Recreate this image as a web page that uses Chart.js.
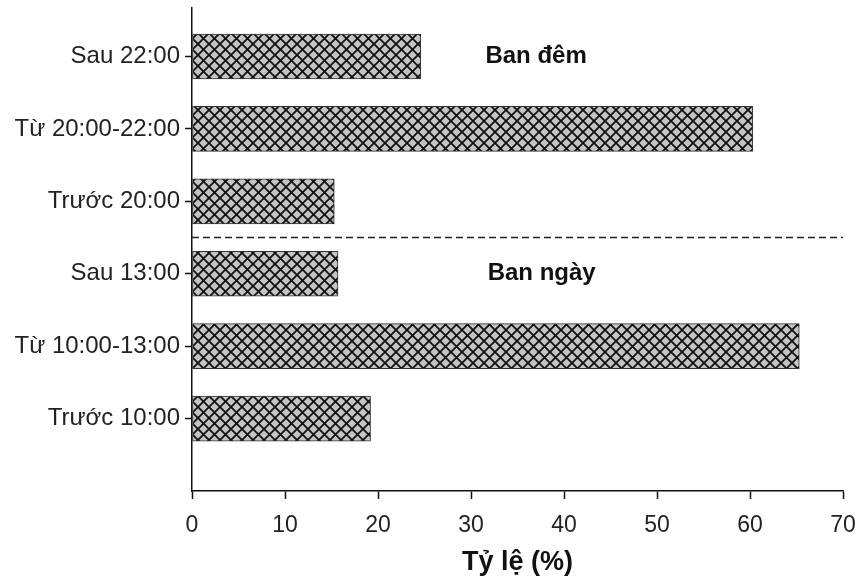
<!DOCTYPE html>
<html>
<head>
<meta charset="utf-8">
<script src="https://cdn.jsdelivr.net/npm/chart.js@4"></script>
<style>
  html, body { margin: 0; padding: 0; background: #ffffff; }
  #wrap { width: 855px; height: 580px; }
</style>
</head>
<body>
<div id="wrap"><canvas id="chart" width="855" height="580"></canvas></div>
<script>
const categories = ["Sau 22:00", "Từ 20:00-22:00", "Trước 20:00", "Sau 13:00", "Từ 10:00-13:00", "Trước 10:00"];
const values = [24.6, 60.3, 15.3, 15.7, 65.3, 19.2];
const xTicks = [0, 10, 20, 30, 40, 50, 60, 70];
const groupLabels = ["Ban đêm", "Ban ngày"];
const groupRows = [0, 3];
const groupX = [37.0, 37.6];
const dividerRow = 2.5;

const font = "'Liberation Sans', Arial, sans-serif";

function makeHatch() {
  const s = 11;
  const c = document.createElement("canvas");
  c.width = s;
  c.height = s;
  const ctx = c.getContext("2d");
  ctx.fillStyle = "#c4c4c4";
  ctx.fillRect(0, 0, s, s);
  ctx.strokeStyle = "#111111";
  ctx.lineWidth = 1.8;
  for (const k of [-s, 0, s]) {
    ctx.beginPath();
    ctx.moveTo(k, 0);
    ctx.lineTo(k + s, s);
    ctx.moveTo(k, s);
    ctx.lineTo(k + s, 0);
    ctx.stroke();
  }
  return document.getElementById("chart").getContext("2d").createPattern(c, "repeat");
}

const extras = {
  id: "extras",
  afterDatasetsDraw(chart) {
    const { ctx, scales } = chart;
    const x = scales.x;
    const y = scales.y;
    ctx.save();
    // dashed divider between night and day
    const yd = y.getPixelForValue(dividerRow);
    ctx.strokeStyle = "#222222";
    ctx.lineWidth = 1.5;
    ctx.setLineDash([7, 4]);
    ctx.beginPath();
    ctx.moveTo(x.left, yd);
    ctx.lineTo(x.right, yd);
    ctx.stroke();
    ctx.setLineDash([]);
    // group labels
    ctx.fillStyle = "#111111";
    ctx.font = "bold 24px " + font;
    ctx.textAlign = "center";
    ctx.textBaseline = "middle";
    groupLabels.forEach((label, i) => {
      ctx.fillText(label, x.getPixelForValue(groupX[i]), y.getPixelForValue(groupRows[i]));
    });
    ctx.restore();
  },
};

new Chart(document.getElementById("chart"), {
  type: "bar",
  data: {
    datasets: [
      {
        data: values.map((v, i) => ({ x: v, y: i })),
        backgroundColor: makeHatch(),
        borderColor: "#333333",
        borderWidth: 1,
        borderSkipped: false,
        barThickness: 45,
      },
    ],
  },
  options: {
    indexAxis: "y",
    responsive: false,
    animation: false,
    layout: { padding: { top: 8, right: 12, left: 0, bottom: 0 } },
    plugins: {
      legend: { display: false },
      tooltip: { enabled: false },
    },
    scales: {
      x: {
        type: "linear",
        min: 0,
        max: 70,
        afterBuildTicks: (scale) => {
          scale.ticks = xTicks.map((v) => ({ value: v }));
        },
        afterFit: (scale) => {
          scale.height = 89;
          scale.paddingLeft = 0;
          scale.paddingRight = 0;
        },
        grid: { drawOnChartArea: false, tickLength: 8, tickColor: "#111111", tickWidth: 1.5 },
        border: { color: "#111111", width: 1.5 },
        ticks: { color: "#222222", font: { family: font, size: 23 }, padding: 13, maxRotation: 0 },
        title: {
          display: true,
          text: "Tỷ lệ (%)",
          color: "#111111",
          font: { family: font, size: 27, weight: "bold" },
          padding: { top: 0, bottom: 1 },
        },
      },
      y: {
        type: "linear",
        reverse: true,
        offset: false,
        min: -0.67,
        max: 6,
        afterBuildTicks: (scale) => {
          scale.ticks = categories.map((c, i) => ({ value: i }));
        },
        afterFit: (scale) => {
          scale.width = 192;
          scale.paddingTop = 0;
          scale.paddingBottom = 0;
        },
        grid: { offset: false, drawOnChartArea: false, tickLength: 7, tickColor: "#111111", tickWidth: 1.5 },
        border: { color: "#111111", width: 1.5 },
        ticks: {
          color: "#222222",
          font: { family: font, size: 24 },
          padding: 5,
          callback: (value) => categories[value] ?? "",
        },
      },
    },
  },
  plugins: [extras],
});
</script>
</body>
</html>
